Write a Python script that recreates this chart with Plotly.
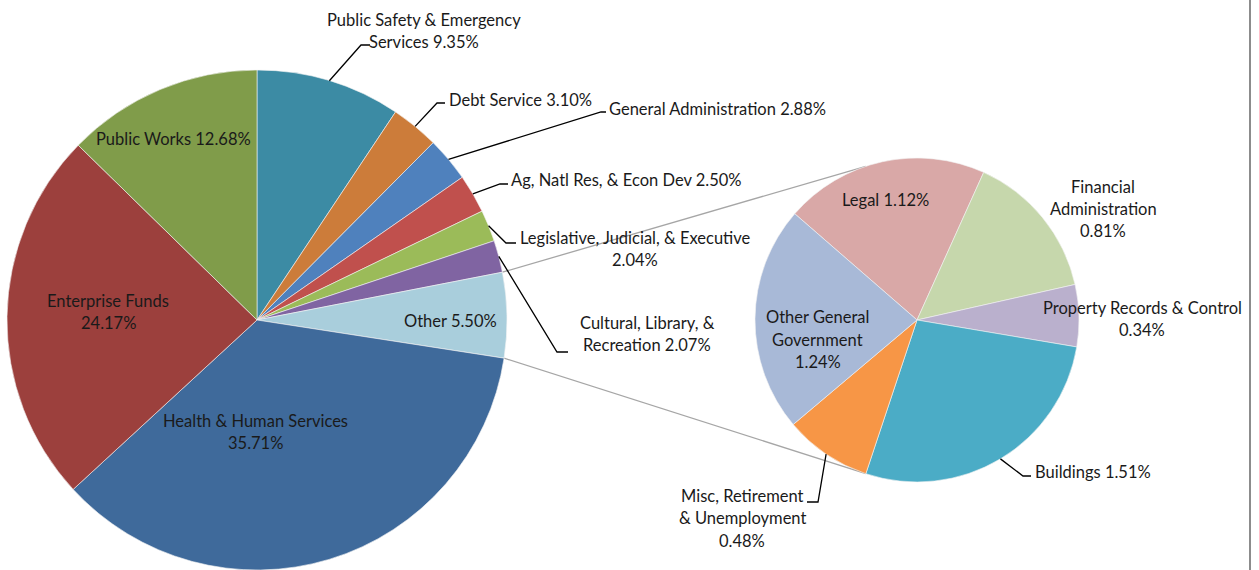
import math
import plotly.graph_objects as go

# ---------------- data ----------------
main_names = ["Public Safety & Emergency Services", "Debt Service", "General Administration",
              "Ag, Natl Res, & Econ Dev", "Legislative, Judicial, & Executive",
              "Cultural, Library, & Recreation", "Other", "Health & Human Services",
              "Enterprise Funds", "Public Works"]
main_values = [9.35, 3.10, 2.88, 2.50, 2.04, 2.07, 5.50, 35.71, 24.17, 12.68]

sub_names = ["Legal", "Financial Administration", "Property Records & Control", "Buildings",
             "Misc, Retirement & Unemployment", "Other General Government"]
sub_values = [1.12, 0.81, 0.34, 1.51, 0.48, 1.24]

# ---------------- style / layout ----------------
main_colors = ["#3C8BA4", "#CC7C3A", "#4F81BD", "#C0504D", "#9BBB59", "#8064A2",
               "#A9CEDC", "#3F6A9B", "#9C403D", "#809C4A"]
sub_colors = ["#D9A8A7", "#C6D7AC", "#BAB0CD", "#4BACC6", "#F79646", "#A8B9D7"]

W, H = 1259, 570
MAIN_C, MAIN_R = (257, 320), 250
SUB_C, SUB_R = (917, 320), 162
SUB_ROT = 311
FONT = "Lato"
FS = 16.5
TXT = "#1a1a1a"

# label layout: lines (with {v}), x, ys, anchor, leader (elbow, end) or None
main_lab = [
    (["Public Safety & Emergency", "Services {v}"], 424, [20, 42], "center", ((361, 45), (370, 45))),
    (["Debt Service {v}"], 447, [100], "left", ((437, 103), (445, 103))),
    (["General Administration {v}"], 607, [109], "left", ((601, 112), (606, 112))),
    (["Ag, Natl Res, & Econ Dev {v}"], 509, [180], "left", ((500, 184), (508, 184))),
    (["Legislative, Judicial, & Executive", "{v}"], 635, [238, 260], "center", ((506, 243), (516, 243))),
    (["Cultural, Library, &", "Recreation {v}"], 647, [323, 345], "center", ((557, 352), (568, 352))),
    (["Other {v}"], 451, [321], "center", None),
    (["Health & Human Services", "{v}"], 255, [421, 443], "center", None),
    (["Enterprise Funds", "{v}"], 108, [301, 323], "center", None),
    (["Public Works {v}"], 173, [139], "center", None),
]
sub_lab = [
    (["Legal {v}"], 885, [200], "center", None),
    (["Financial", "Administration", "{v}"], 1103, [187, 209, 231], "center", None),
    (["Property Records & Control", "{v}"], 1142, [308, 330], "center", None),
    (["Buildings {v}"], 1033, [472], "left", ((1023, 476), (1031, 476))),
    (["Misc, Retirement", "& Unemployment", "{v}"], 742, [496, 518, 541], "center", ((818, 502), (807, 502))),
    (["Other General", "Government", "{v}"], 818, [317, 340, 362], "center", None),
]


def pxx(x):
    return x / W


def pyy(y):
    return 1 - y / H


def polar(c, r, ang):
    a = math.radians(ang)
    return (c[0] + r * math.sin(a), c[1] - r * math.cos(a))


def angles(values, rot):
    tot = sum(values)
    out, cum = [], rot
    for v in values:
        a = v / tot * 360
        out.append((cum, cum + a))
        cum += a
    return out


main_ang = angles(main_values, 0)
sub_ang = angles(sub_values, SUB_ROT)

fig = go.Figure()
fig.add_trace(go.Pie(
    values=main_values, labels=main_names, sort=False, direction="clockwise", rotation=0,
    marker=dict(colors=main_colors, line=dict(color="#f4f4f4", width=0.6)),
    textinfo="none", hoverinfo="label+percent", showlegend=False,
    domain=dict(x=[pxx(MAIN_C[0] - MAIN_R), pxx(MAIN_C[0] + MAIN_R)],
                y=[pyy(MAIN_C[1] + MAIN_R), pyy(MAIN_C[1] - MAIN_R)]),
))
fig.add_trace(go.Pie(
    values=sub_values, labels=sub_names, sort=False, direction="clockwise", rotation=SUB_ROT - 360,
    marker=dict(colors=sub_colors, line=dict(color="#f4f4f4", width=0.6)),
    textinfo="none", hoverinfo="label+value", showlegend=False,
    domain=dict(x=[pxx(SUB_C[0] - SUB_R), pxx(SUB_C[0] + SUB_R)],
                y=[pyy(SUB_C[1] + SUB_R), pyy(SUB_C[1] - SUB_R)]),
))

shapes = []
annotations = []


def add_labels(labs, vals, angs, c, r):
    for (lines, x, ys, anchor, leader), v, (a0, a1) in zip(labs, vals, angs):
        for ln, y in zip(lines, ys):
            annotations.append(dict(
                x=pxx(x), y=pyy(y), xref="paper", yref="paper", showarrow=False,
                text=ln.format(v=f"{v:.2f}%"), xanchor=anchor, yanchor="middle",
                font=dict(family=FONT, size=FS, color=TXT)))
        if leader:
            sx, sy = polar(c, r, (a0 + a1) / 2)
            (ex, ey), (fx, fy) = leader
            path = (f"M {pxx(sx)},{pyy(sy)} L {pxx(ex)},{pyy(ey)} L {pxx(fx)},{pyy(fy)}")
            shapes.append(dict(type="path", xref="paper", yref="paper", path=path,
                               line=dict(color="#000000", width=1.3)))


add_labels(main_lab, main_values, main_ang, MAIN_C, MAIN_R)
add_labels(sub_lab, sub_values, sub_ang, SUB_C, SUB_R)

# connector lines from "Other" slice to secondary pie
oi = main_names.index("Other")
o_start, o_end = main_ang[oi]
b_end = sub_ang[sub_names.index("Buildings")][1] % 360
top_sub = (540 - b_end) % 360
p1 = polar(MAIN_C, MAIN_R, o_start)
q1 = polar(SUB_C, SUB_R, top_sub)
p2 = polar(MAIN_C, MAIN_R, o_end)
q2 = polar(SUB_C, SUB_R, b_end)
for (a, b) in [(p1, q1), (p2, q2)]:
    shapes.append(dict(type="line", xref="paper", yref="paper",
                       x0=pxx(a[0]), y0=pyy(a[1]), x1=pxx(b[0]), y1=pyy(b[1]),
                       line=dict(color="#A6A6A6", width=1.3), layer="below"))

# right frame border
shapes.append(dict(type="line", xref="paper", yref="paper", x0=pxx(1250), x1=pxx(1250), y0=0, y1=1,
                   line=dict(color="#8C8C8C", width=2)))

fig.update_layout(
    width=W, height=H, margin=dict(l=0, r=0, t=0, b=0),
    paper_bgcolor="white", plot_bgcolor="white", showlegend=False,
    shapes=shapes, annotations=annotations,
    font=dict(family=FONT, size=FS, color=TXT),
)

fig.write_html("out.html", config={"displayModeBar": False},
               post_script="document.body.style.margin='0';document.body.style.overflow='hidden';")
